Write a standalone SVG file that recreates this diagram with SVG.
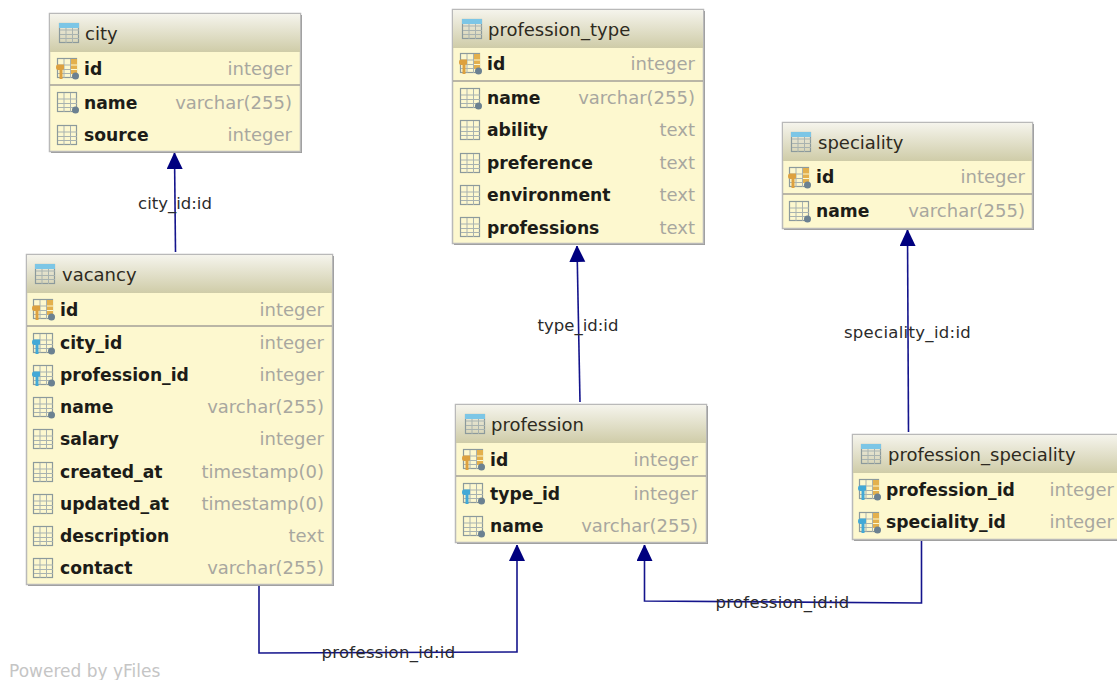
<svg xmlns="http://www.w3.org/2000/svg" width="1117" height="680" viewBox="0 0 1117 680">
<style>
.box{fill:#fdf8cf;stroke:#b9b9b9;stroke-width:1.5}
.shadow{fill:#9a9a9a}
.head{fill:url(#hd)}
.sep{stroke:#a3a199;stroke-width:1.5}
text{font-family:"DejaVu Sans","Liberation Sans",sans-serif}
.t{font-size:18px;fill:#2e2a20}
.c{font-size:17.2px;font-weight:700;fill:#1c1c18}
.y{font-size:18px;fill:#a8a79f;text-anchor:end}
.l{font-size:16.5px;fill:#2b2b2b;text-anchor:middle}
.w{font-size:17px;fill:#c5c5c5}
.e{fill:none;stroke:#14148c;stroke-width:1.6}
.g{fill:none;stroke:#8c9a9c;stroke-width:1.2}
.gb{stroke:#a9b3b0;stroke-width:1}
</style>
<defs>
<linearGradient id="hd" x1="0" y1="0" x2="0" y2="1"><stop offset="0" stop-color="#f5f4ec"/><stop offset="1" stop-color="#cfcca8"/></linearGradient>
<marker id="arr" markerUnits="userSpaceOnUse" viewBox="0 0 16 18" markerWidth="16" markerHeight="18" refX="16" refY="8" orient="auto"><path d="M0 0L17 8L0 16Z" fill="#00007f"/></marker>
<g id="grid"><rect x="0.5" y="0.5" width="19" height="19" class="g"/><path class="gb" d="M7 1V20M13.500 1V20M1 7H20M1 11.500H20M1 15.500H20"/></g>
<g id="tbl"><use href="#grid"/><rect x="0" y="0" width="20" height="5" fill="#7cc6e6"/></g>
<circle id="dot" cx="18.500" cy="18" r="3.500" fill="#6b8191"/>
<path id="kp" d="M0 6.500H7V11.500H5.500V21H2.500V12H1.500Q-1 12-1 9.500Q-1 6.500 1 6.500Z"/>
<g id="pk"><use href="#grid"/><path d="M14 1H20V16H14Z" fill="#e3b04d"/><path d="M14 7H20M14 11.500H20" stroke="#fdf8cf" fill="none"/><use href="#kp" fill="#dda13f"/><use href="#dot"/></g>
<g id="fk"><use href="#grid"/><use href="#kp" fill="#43a9d6"/><use href="#dot"/></g>
<g id="pf"><use href="#grid"/><path d="M14 1H20V16H14Z" fill="#e3b04d"/><path d="M14 7H20M14 11.500H20" stroke="#fdf8cf" fill="none"/><use href="#kp" fill="#43a9d6"/><use href="#dot"/></g>
<g id="nn"><use href="#grid"/><use href="#dot"/></g>
</defs>
<rect width="1117" height="680" fill="#fff"/>
<g id="connectors">
<path class="e" d="M175.500 252L174.500 153" marker-end="url(#arr)"/>
<path class="e" d="M580 402L577 246" marker-end="url(#arr)"/>
<path class="e" d="M908.500 432L907.500 230" marker-end="url(#arr)"/>
<path class="e" d="M259 586V653L517 652V545" marker-end="url(#arr)"/>
<path class="e" d="M921.500 541V603L644.500 601V545" marker-end="url(#arr)"/>
<text class="l" x="175" y="209">city_id:id</text>
<text class="l" x="578" y="331">type_id:id</text>
<text class="l" x="907.500" y="338" letter-spacing="0.300">speciality_id:id</text>
<text class="l" x="388.500" y="658" letter-spacing="0.300">profession_id:id</text>
<text class="l" x="782.500" y="608" letter-spacing="0.300">profession_id:id</text>
</g>
<g id="city">
<rect class="shadow" x="51" y="15" width="251" height="138"/><rect class="box" x="49.500" y="13.500" width="251" height="138"/><rect class="head" x="50" y="14" width="250" height="38"/><path class="sep" d="M50 85H300"/>
<use href="#tbl" x="59" y="23"/><text class="t" x="85" y="40">city</text>
<use href="#pk" x="57" y="58"/><text class="c" x="84" y="75">id</text><text class="y" x="292" y="75">integer</text>
<use href="#nn" x="57" y="92"/><text class="c" x="84" y="109">name</text><text class="y" x="292" y="109">varchar(255)</text>
<use href="#grid" x="57" y="125"/><text class="c" x="84" y="141">source</text><text class="y" x="292" y="141">integer</text>
</g>
<g id="vacancy">
<rect class="shadow" x="28" y="256" width="306" height="330"/><rect class="box" x="26.500" y="254.500" width="306" height="330"/><rect class="head" x="27" y="255" width="305" height="38"/><path class="sep" d="M27 326H332"/>
<use href="#tbl" x="35" y="264"/><text class="t" x="62" y="281">vacancy</text>
<use href="#pk" x="33" y="299"/><text class="c" x="60" y="316">id</text><text class="y" x="324" y="316">integer</text>
<use href="#fk" x="33" y="333"/><text class="c" x="60" y="349">city_id</text><text class="y" x="324" y="349">integer</text>
<use href="#fk" x="33" y="365"/><text class="c" x="60" y="381">profession_id</text><text class="y" x="324" y="381">integer</text>
<use href="#nn" x="33" y="397"/><text class="c" x="60" y="413">name</text><text class="y" x="324" y="413">varchar(255)</text>
<use href="#grid" x="33" y="429"/><text class="c" x="60" y="445">salary</text><text class="y" x="324" y="445">integer</text>
<use href="#grid" x="33" y="462"/><text class="c" x="60" y="478">created_at</text><text class="y" x="324" y="478">timestamp(0)</text>
<use href="#grid" x="33" y="494"/><text class="c" x="60" y="510">updated_at</text><text class="y" x="324" y="510">timestamp(0)</text>
<use href="#grid" x="33" y="526"/><text class="c" x="60" y="542">description</text><text class="y" x="324" y="542">text</text>
<use href="#grid" x="33" y="558"/><text class="c" x="60" y="574">contact</text><text class="y" x="324" y="574">varchar(255)</text>
</g>
<g id="profession_type">
<rect class="shadow" x="454" y="11" width="251" height="234"/><rect class="box" x="452.500" y="9.500" width="251" height="234"/><rect class="head" x="453" y="10" width="250" height="38"/><path class="sep" d="M453 81H703"/>
<use href="#tbl" x="462" y="19"/><text class="t" x="488" y="36">profession_type</text>
<use href="#pk" x="460" y="53"/><text class="c" x="487" y="70">id</text><text class="y" x="695" y="70">integer</text>
<use href="#nn" x="460" y="88"/><text class="c" x="487" y="104">name</text><text class="y" x="695" y="104">varchar(255)</text>
<use href="#grid" x="460" y="120"/><text class="c" x="487" y="136">ability</text><text class="y" x="695" y="136">text</text>
<use href="#grid" x="460" y="153"/><text class="c" x="487" y="169">preference</text><text class="y" x="695" y="169">text</text>
<use href="#grid" x="460" y="185"/><text class="c" x="487" y="201">environment</text><text class="y" x="695" y="201">text</text>
<use href="#grid" x="460" y="217"/><text class="c" x="487" y="234">professions</text><text class="y" x="695" y="234">text</text>
</g>
<g id="speciality">
<rect class="shadow" x="784" y="124" width="250" height="106"/><rect class="box" x="782.500" y="122.500" width="250" height="106"/><rect class="head" x="783" y="123" width="249" height="38"/><path class="sep" d="M783 194H1032"/>
<use href="#tbl" x="791" y="132"/><text class="t" x="818" y="149">speciality</text>
<use href="#pk" x="789" y="167"/><text class="c" x="816" y="183">id</text><text class="y" x="1025" y="183">integer</text>
<use href="#nn" x="789" y="201"/><text class="c" x="816" y="217">name</text><text class="y" x="1025" y="217">varchar(255)</text>
</g>
<g id="profession">
<rect class="shadow" x="457" y="406" width="251" height="138"/><rect class="box" x="455.500" y="404.500" width="251" height="138"/><rect class="head" x="456" y="405" width="250" height="38"/><path class="sep" d="M456 476H706"/>
<use href="#tbl" x="465" y="414"/><text class="t" x="491" y="431">profession</text>
<use href="#pk" x="463" y="449"/><text class="c" x="490" y="466">id</text><text class="y" x="698" y="466">integer</text>
<use href="#fk" x="463" y="483"/><text class="c" x="490" y="500">type_id</text><text class="y" x="698" y="500">integer</text>
<use href="#nn" x="463" y="516"/><text class="c" x="490" y="532">name</text><text class="y" x="698" y="532">varchar(255)</text>
</g>
<g id="profession_speciality">
<rect class="shadow" x="854" y="436" width="264" height="105"/><rect class="box" x="852.500" y="434.500" width="266" height="105"/><rect class="head" x="853" y="435" width="264" height="38"/>
<use href="#tbl" x="861" y="444"/><text class="t" x="888" y="461">profession_speciality</text>
<use href="#pf" x="859" y="479"/><text class="c" x="886" y="496">profession_id</text><text class="y" x="1114" y="496">integer</text>
<use href="#pf" x="859" y="512"/><text class="c" x="886" y="528">speciality_id</text><text class="y" x="1114" y="528">integer</text>
</g>
<text class="w" x="9" y="677">Powered by yFiles</text>
</svg>
